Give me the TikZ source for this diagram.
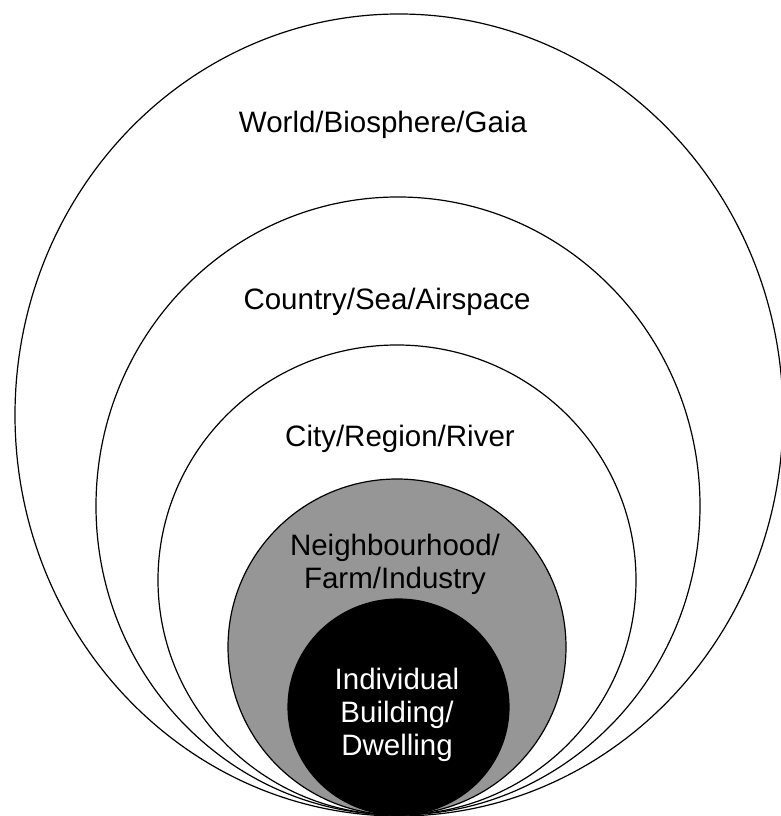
\documentclass[tikz,border=0pt]{standalone}
\usepackage{fontspec}
\setmainfont{Liberation Sans}
\definecolor{ringgray}{RGB}{150,150,150}
\begin{document}
\begin{tikzpicture}[
        x=1pt, y=1pt,
        ring/.style={draw=black, line width=1.2pt},
        label/.style={inner sep=0pt, align=center, font=\fontsize{29.5}{33}\selectfont},
    ]
    \useasboundingbox (0,0) rectangle (781,816);
    % nested scales, all touching at the bottom
    \draw[ring, fill=white] (399,401) ellipse (384 and 401);
    \draw[ring, fill=white] (398,310) ellipse (302 and 309);
    \draw[ring, fill=white] (397,236) ellipse (239 and 235);
    \draw[ring, fill=ringgray] (397,169) ellipse (169 and 168);
    \draw[ring, fill=black] (398.5,109) ellipse (110.5 and 108);
    % labels
    \node[label, anchor=base] (world) at (383,683) {World/Biosphere/Gaia};
    \node[label, anchor=base] (country) at (387,506) {Country/Sea/Airspace};
    \node[label, anchor=base] (city) at (400,369) {City/Region/River};
    \node[label] (hood) at (395,252) {Neighbourhood/\\Farm/Industry};
    \node[label, text=white] (building) at (397,101) {Individual\\Building/\\Dwelling};
\end{tikzpicture}
\end{document}
